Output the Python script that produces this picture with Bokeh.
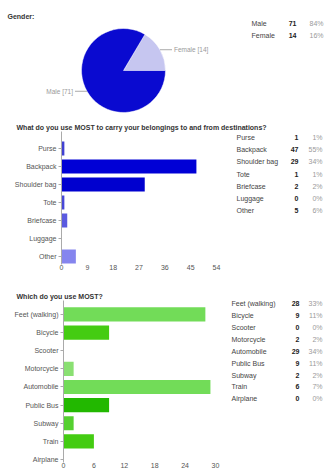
import math
from bokeh.plotting import figure
from bokeh.layouts import column, row
from bokeh.models import Range1d, FixedTicker, Title
from bokeh.embed import file_html
from bokeh.resources import INLINE
from bokeh.core.properties import value

FONT = "Liberation Sans"

# ---------------- data ----------------
gender = ["Male", "Female"]
gender_counts = [71, 14]
gender_pct = ["84%", "16%"]
gender_colors = ["#0a0ad0", "#c6c6f0"]

carry = ["Purse", "Backpack", "Shoulder bag", "Tote", "Briefcase", "Luggage", "Other"]
carry_counts = [1, 47, 29, 1, 2, 0, 5]
carry_pct = ["1%", "55%", "34%", "1%", "2%", "0%", "6%"]
carry_colors = ["#4040d2", "#0000d6", "#0000cf", "#4848d8", "#5a5ae0", "#7070e8", "#8585ee"]
carry_ticks = [0, 9, 18, 27, 36, 45, 54]

mode = ["Feet (walking)", "Bicycle", "Scooter", "Motorcycle", "Automobile",
        "Public Bus", "Subway", "Train", "Airplane"]
mode_counts = [28, 9, 0, 2, 29, 9, 2, 6, 0]
mode_pct = ["33%", "11%", "0%", "2%", "34%", "11%", "2%", "7%", "0%"]
mode_colors = ["#72dc58", "#44cc12", "#66d040", "#8ae072", "#72dc58",
               "#22b800", "#55d030", "#44cc12", "#55d030"]
mode_ticks = [0, 6, 12, 18, 24, 30]

W = 328
TXT = "#444444"
GREY = "#9a9a9a"


def base_fig(height, **kw):
    p = figure(width=W, height=height, output_backend="svg", toolbar_location=None,
               tools="", **kw)
    p.outline_line_color = None
    p.background_fill_color = "white"
    p.border_fill_color = "white"
    return p


def add_table(p, labels, counts, pcts, x_lab, x_cnt, x_pct, y0, dy, size, **rng):
    ys = [y0 + i * dy for i in range(len(labels))]
    p.text(x=[x_lab] * len(labels), y=ys, text=labels, text_font=value(FONT),
           text_font_size=size, text_color=TXT, text_baseline="middle",
           text_align="left", **rng)
    p.text(x=[x_cnt] * len(labels), y=ys, text=[str(c) for c in counts],
           text_font=value(FONT), text_font_size=size, text_font_style="bold",
           text_color="#222222", text_baseline="middle", text_align="right", **rng)
    p.text(x=[x_pct] * len(labels), y=ys, text=pcts, text_font=value(FONT),
           text_font_size=size, text_color=GREY, text_baseline="middle",
           text_align="right", **rng)


# ---------------- section 1 : pie ----------------
H1 = 118
p1 = base_fig(H1, x_range=Range1d(0, W), y_range=Range1d(H1, 0),
              min_border=0)
p1.axis.visible = False
p1.grid.visible = False
cx, cy, r = 123, 70, 42
# order slices: Female first (counter-clockwise from 3 o'clock), then Male
order = [1, 0]
total = sum(gender_counts)
start = 0.0
starts, ends, cols, mids = [], [], [], {}
for i in order:
    a = gender_counts[i] / total * 2 * math.pi
    starts.append(start)
    ends.append(start + a)
    cols.append(gender_colors[i])
    mids[i] = start + a / 2
    start += a
p1.wedge(x=[cx] * 2, y=[cy] * 2, radius=r, start_angle=starts, end_angle=ends,
         fill_color=cols, line_color="white", line_width=0.5)
# leader lines + labels
for i in order:
    m = mids[i]
    ex = cx + r * math.cos(m)
    ey = cy - r * math.sin(m)
    side = 1 if math.cos(m) >= 0 else -1
    lx = ex + side * 12
    p1.line(x=[ex, lx], y=[ey, ey], line_color="#aaaaaa", line_width=1)
    p1.text(x=[lx + side * 2], y=[ey], text=[f"{gender[i]} [{gender_counts[i]}]"],
            text_font=value(FONT), text_font_size="6.5px", text_color=GREY,
            text_baseline="middle", text_align="left" if side > 0 else "right")
p1.text(x=[7], y=[16], text=["Gender:"], text_font=value(FONT), text_font_size="7px",
        text_font_style="bold", text_color="#333333", text_baseline="middle")
add_table(p1, gender, gender_counts, gender_pct, 251, 296, 323, 23, 12, "7px")


# ---------------- bar section helper ----------------
def bar_section(height, labels, counts, colors, ticks, title, left, x_at_max,
                top, bottom, c0, dy, bar_h):
    frame_w = W - left
    x_end = ticks[-1] * frame_w / (x_at_max - left)
    n = len(labels)
    y_top = (top - c0) / dy
    y_bot = (height - bottom - c0) / dy
    p = base_fig(height, x_range=Range1d(0, x_end), y_range=Range1d(y_bot, y_top),
                 min_border_left=left, min_border_right=0, min_border_top=top,
                 min_border_bottom=bottom)
    p.extra_x_ranges = {"tbl": Range1d(left, W)}
    p.extra_y_ranges = {"tbl": Range1d(height - bottom, top)}
    p.hbar(y=list(range(n)), right=counts, left=0, height=bar_h,
           fill_color=colors, line_color=None)
    p.grid.visible = False
    # y axis
    p.yaxis.ticker = FixedTicker(ticks=list(range(n)))
    p.yaxis.major_label_overrides = {i: lab for i, lab in enumerate(labels)}
    p.yaxis.major_label_text_font = FONT
    p.yaxis.major_label_text_font_size = "7px"
    p.yaxis.major_label_text_color = "#555555"
    p.yaxis.axis_line_color = "#aaaaaa"
    p.yaxis.major_tick_line_color = "#aaaaaa"
    p.yaxis.major_tick_out = 3
    p.yaxis.major_tick_in = 0
    p.yaxis.minor_tick_line_color = None
    p.yaxis.major_label_standoff = 2
    # x axis
    p.xaxis.ticker = FixedTicker(ticks=ticks)
    p.xaxis.major_label_text_font = FONT
    p.xaxis.major_label_text_font_size = "7px"
    p.xaxis.major_label_text_color = "#555555"
    p.xaxis.axis_line_color = None
    p.xaxis.major_tick_line_color = None
    p.xaxis.minor_tick_line_color = None
    p.xaxis.major_tick_out = 0
    p.xaxis.major_tick_in = 0
    p.xaxis.major_label_standoff = 0
    t = Title(text=title, text_font=FONT, text_font_size="7px",
              text_font_style="bold", text_color="#333333", align="left",
              offset=16 - left, standoff=1)
    p.add_layout(t, "above")
    return p


# ---------------- section 2 ----------------
H2 = 172
p2 = bar_section(H2, carry, carry_counts, carry_colors, carry_ticks,
                 "What do you use MOST to carry your belongings to and from destinations?",
                 left=61, x_at_max=216, top=13, bottom=26, c0=30, dy=18, bar_h=0.78)
add_table(p2, carry, carry_counts, carry_pct, 236, 298, 322, 19, 12.2, "7px",
          x_range_name="tbl", y_range_name="tbl")

# ---------------- section 3 ----------------
H3 = 186
p3 = bar_section(H3, mode, mode_counts, mode_colors, mode_ticks,
                 "Which do you use MOST?",
                 left=63, x_at_max=215, top=9, bottom=14, c0=23, dy=18.25, bar_h=0.78)
add_table(p3, mode, mode_counts, mode_pct, 231, 299, 322, 12, 12, "7px",
          x_range_name="tbl", y_range_name="tbl")

layout = column(row(p1), row(p2), row(p3), spacing=0)
open("out.html", "w").write(file_html(layout, INLINE))
